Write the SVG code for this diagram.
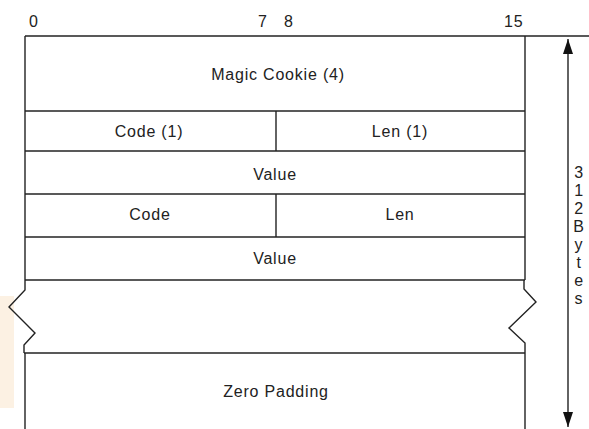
<svg xmlns="http://www.w3.org/2000/svg" width="589" height="429" viewBox="0 0 589 429">
<style>
  .ln { stroke: #222; stroke-width: 1.4; fill: none; }
  .t { font-family: "Liberation Sans", Arial, sans-serif; font-size: 16px; fill: #222; letter-spacing: 0.8px; }
  .c { text-anchor: middle; }
</style>
<defs>
  <marker id="ah" viewBox="0 0 15 10" refX="15" refY="5" markerWidth="15" markerHeight="10" markerUnits="userSpaceOnUse" orient="auto-start-reverse">
    <path d="M0 0 L15 5 L0 10 Z" fill="#111"/>
  </marker>
</defs>
<rect width="589" height="429" fill="#fff"/>
<rect x="0" y="296" width="14" height="112" fill="#fcf1e3"/>

<g id="bit-labels">
  <text class="t" x="29" y="27">0</text>
  <text class="t" x="258" y="27">7</text>
  <text class="t" x="284" y="27">8</text>
  <text class="t" x="504" y="27">15</text>
</g>

<line class="ln" x1="25" y1="36" x2="589" y2="36"/>

<g id="magic-cookie">
  <line class="ln" x1="25" y1="36" x2="25" y2="111"/>
  <line class="ln" x1="525" y1="36" x2="525" y2="111"/>
  <line class="ln" x1="25" y1="111" x2="525" y2="111"/>
  <text class="t c" x="278" y="80">Magic Cookie (4)</text>
</g>

<g id="code1">
  <line class="ln" x1="25" y1="111" x2="25" y2="151"/>
  <line class="ln" x1="276" y1="111" x2="276" y2="151"/>
  <text class="t c" x="149" y="137">Code (1)</text>
</g>
<g id="len1">
  <line class="ln" x1="525" y1="111" x2="525" y2="151"/>
  <line class="ln" x1="25" y1="151" x2="525" y2="151"/>
  <text class="t c" x="400" y="137">Len (1)</text>
</g>

<g id="value1">
  <line class="ln" x1="25" y1="151" x2="25" y2="194"/>
  <line class="ln" x1="525" y1="151" x2="525" y2="194"/>
  <line class="ln" x1="25" y1="194" x2="525" y2="194"/>
  <text class="t c" x="275" y="180">Value</text>
</g>

<g id="code2">
  <line class="ln" x1="25" y1="194" x2="25" y2="237"/>
  <line class="ln" x1="276" y1="194" x2="276" y2="237"/>
  <text class="t c" x="150" y="220">Code</text>
</g>
<g id="len2">
  <line class="ln" x1="525" y1="194" x2="525" y2="237"/>
  <line class="ln" x1="25" y1="237" x2="525" y2="237"/>
  <text class="t c" x="400" y="220">Len</text>
</g>

<g id="value2">
  <line class="ln" x1="25" y1="237" x2="25" y2="280"/>
  <line class="ln" x1="525" y1="237" x2="525" y2="280"/>
  <line class="ln" x1="25" y1="280" x2="525" y2="280"/>
  <text class="t c" x="275" y="264">Value</text>
</g>

<g id="break">
  <polyline class="ln" points="25,280 25,290 9,307 35,333 24,345 24,353"/>
  <polyline class="ln" points="524,280 524,289 536,302 509,328 525,343 525,353"/>
  <line class="ln" x1="24" y1="353" x2="525" y2="353"/>
</g>

<g id="zero-padding">
  <line class="ln" x1="25" y1="353" x2="25" y2="429"/>
  <line class="ln" x1="525" y1="353" x2="525" y2="429"/>
  <text class="t c" x="276" y="397">Zero Padding</text>
</g>

<g id="connectors">
  <line class="ln" x1="568" y1="39" x2="568" y2="427" marker-start="url(#ah)" marker-end="url(#ah)"/>
</g>

<g id="size-label">
  <text class="t c" x="579" y="178">3</text>
  <text class="t c" x="579" y="196">1</text>
  <text class="t c" x="579" y="214">2</text>
  <text class="t c" x="579" y="232">B</text>
  <text class="t c" x="579" y="250">y</text>
  <text class="t c" x="579" y="268">t</text>
  <text class="t c" x="579" y="286">e</text>
  <text class="t c" x="579" y="304">s</text>
</g>
</svg>
